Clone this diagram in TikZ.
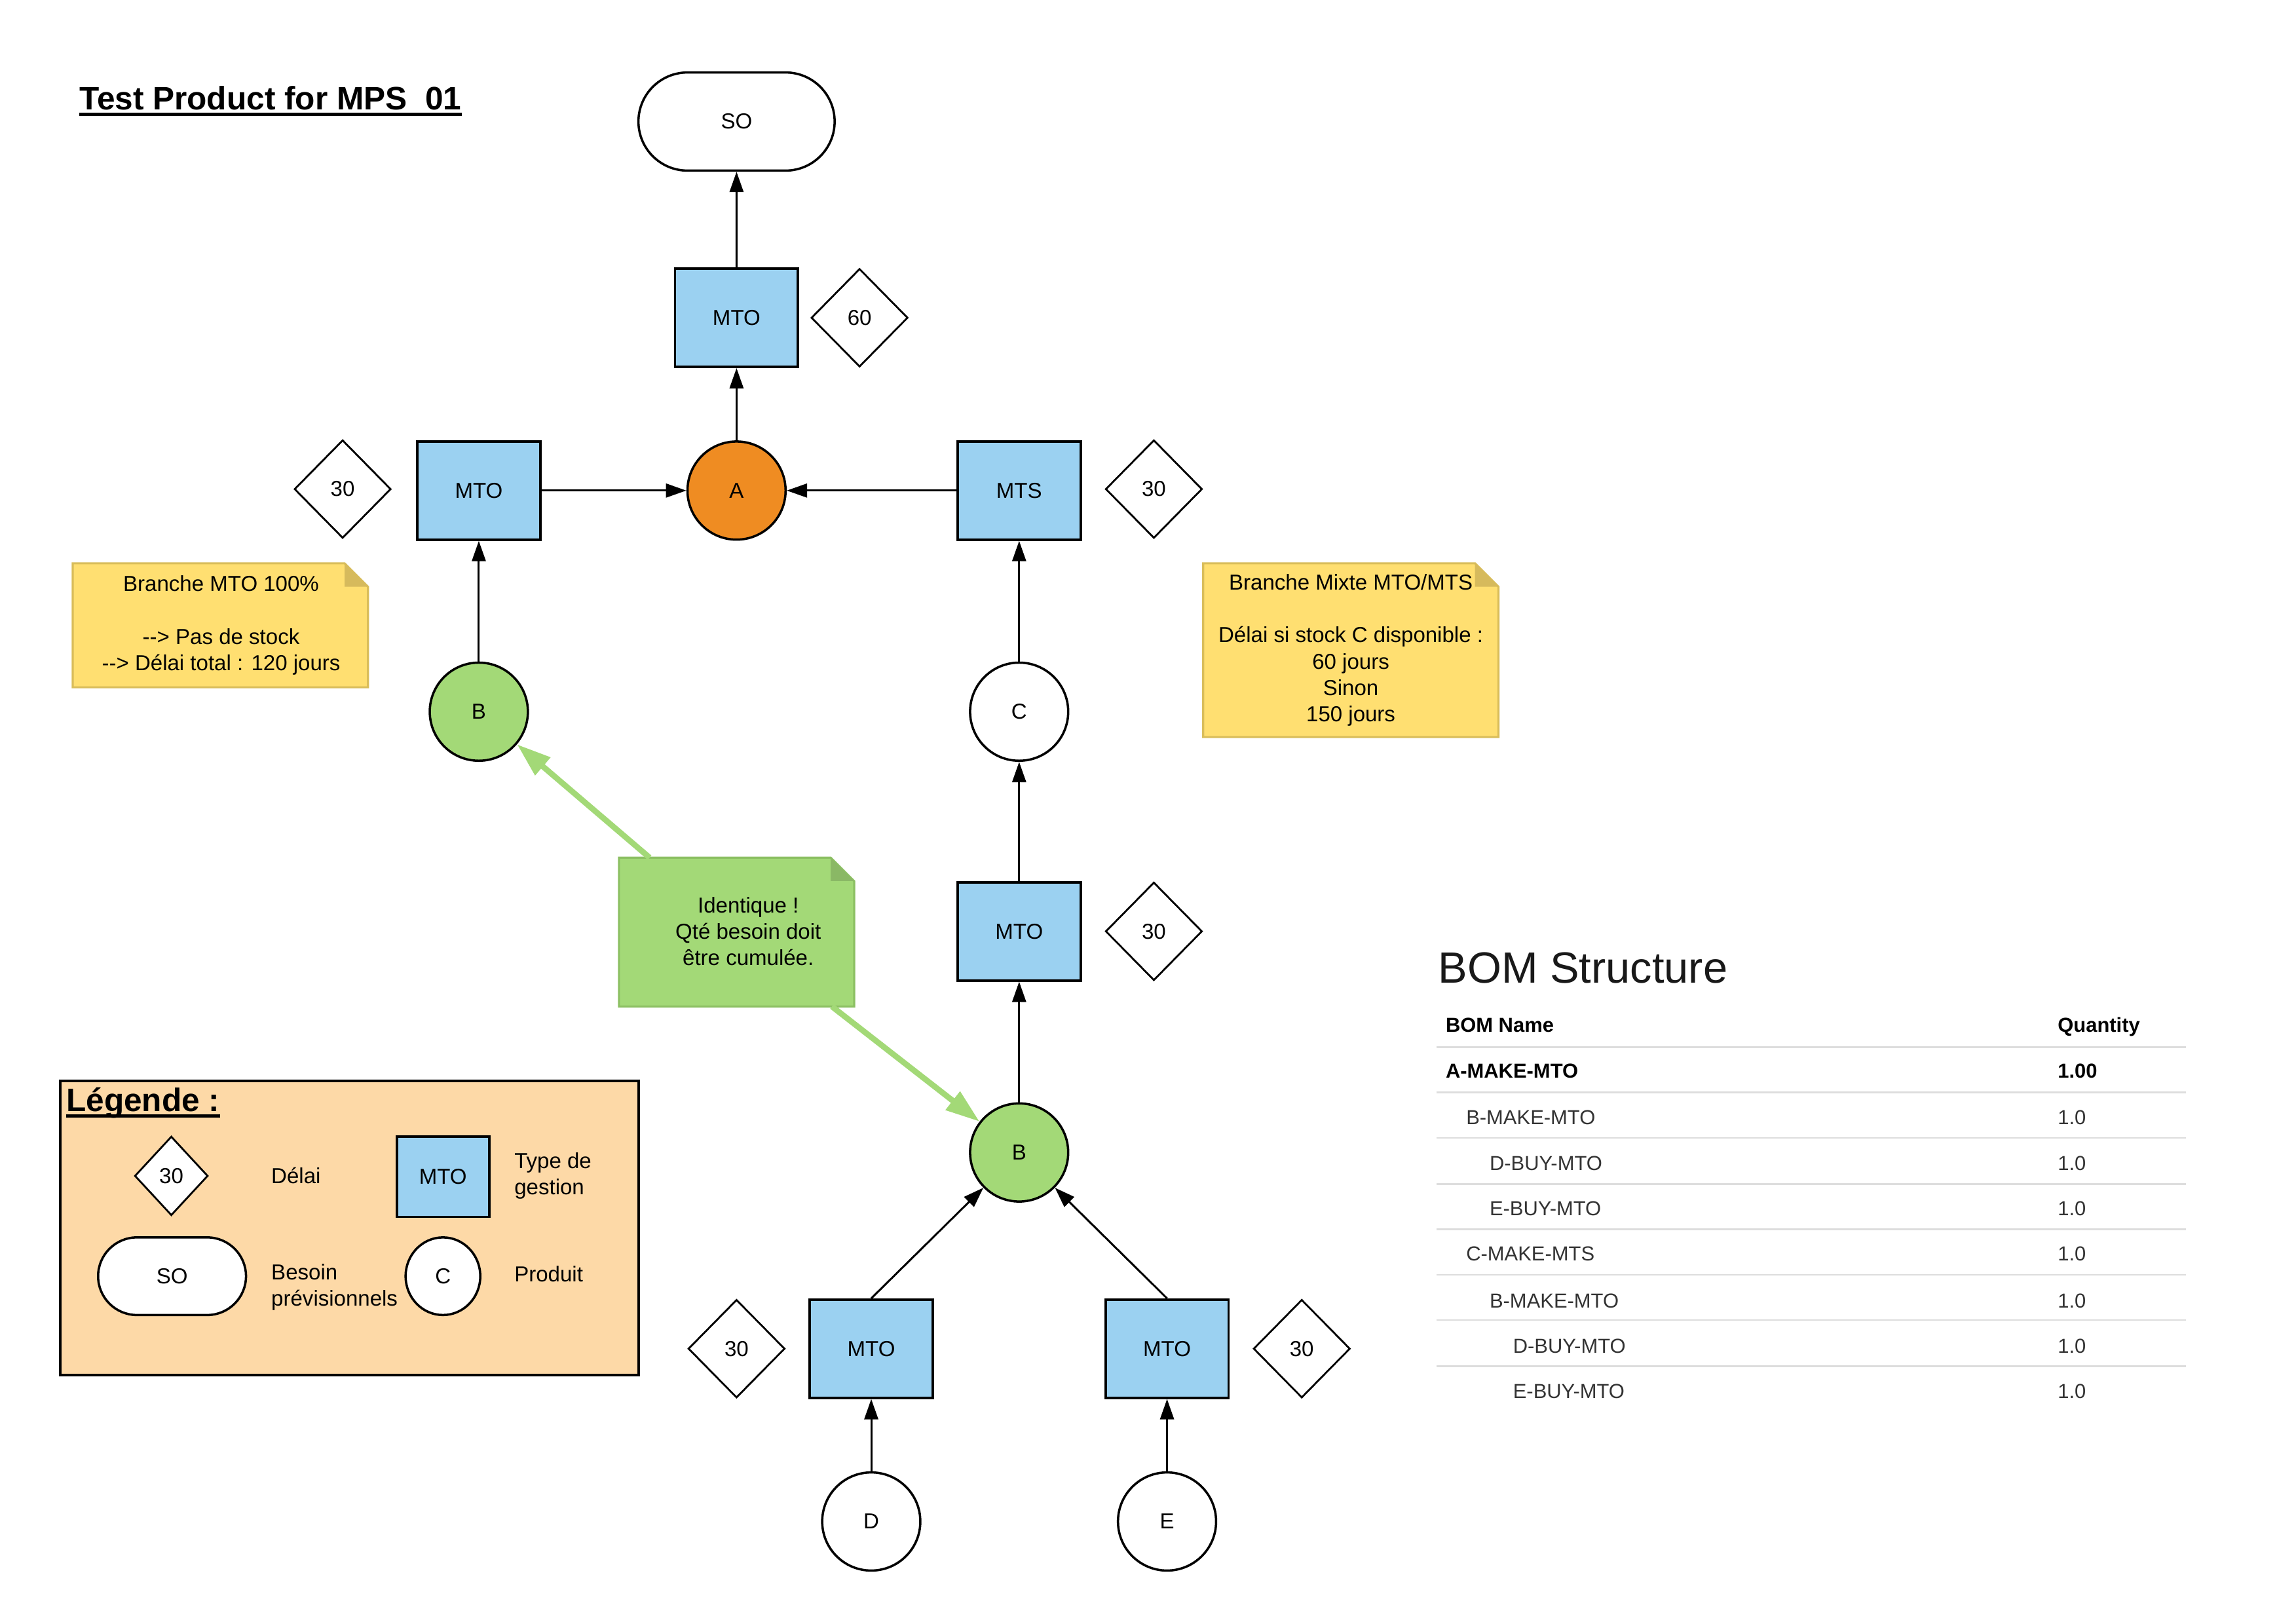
\documentclass[tikz,border=0pt]{standalone}
\usepackage{fontspec}
\setmainfont{Liberation Sans}
\usetikzlibrary{shapes.geometric,shapes.misc,arrows.meta,calc}
\definecolor{boxblue}{HTML}{9BD1F1}
\definecolor{aorange}{HTML}{EF8C22}
\definecolor{bgreen}{HTML}{A3D977}
\definecolor{notey}{HTML}{FFDF71}
\definecolor{noteyb}{HTML}{D9BD5A}
\definecolor{noteyf}{HTML}{D6BA5C}
\definecolor{noteg}{HTML}{A3D977}
\definecolor{notegb}{HTML}{8CC063}
\definecolor{notegf}{HTML}{8AB865}
\definecolor{legfill}{HTML}{FDD9A7}
\definecolor{tline}{HTML}{DDDDDD}
\definecolor{ttext}{HTML}{333333}
\newcommand\ndfont{\fontsize{9.4}{11.4}\selectfont}
\newcommand\bigtfont{\fontsize{14.1}{16}\selectfont\bfseries}
\newcommand\bomfont{\fontsize{19}{22}\selectfont}
\newcommand\tabfont{\fontsize{8.8}{10}\selectfont}
\newcommand\dogear[4]{%
  \draw[draw=#3, fill=#2, line width=0.9pt] (#1.north west) -- ($(#1.north east)+(-16,0)$) -- ($(#1.north east)+(0,16)$) -- (#1.south east) -- (#1.south west) -- cycle;
  \fill[#4] ($(#1.north east)+(-16,0)$) -- ($(#1.north east)+(-16,16)$) -- ($(#1.north east)+(0,16)$) -- cycle;}
\begin{document}
\begin{tikzpicture}[x=0.022354cm,y=-0.022354cm,
  base/.style={font=\ndfont, align=center, inner sep=0pt},
  mbox/.style={base, draw, line width=1.1pt, fill=boxblue, minimum width=1.878cm, minimum height=1.498cm},
  prod/.style={base, circle, draw, line width=1pt, fill=white, minimum size=1.498cm},
  delay/.style={base, diamond, draw, line width=0.8pt, fill=white, minimum width=1.475cm, minimum height=1.498cm},
  term/.style={base, rounded rectangle, draw, line width=1pt, fill=white, minimum width=2.995cm, minimum height=1.498cm},
  noteshape/.style={inner sep=0pt, draw=none},
  ntext/.style={base},
  ltext/.style={base, align=left, anchor=west},
  arr/.style={line width=0.85pt, -{Triangle[length=3.1mm,width=2.1mm]}},
  garr/.style={line width=2.5pt, draw=bgreen, -{Triangle[length=5.2mm,width=3.4mm]}},
  tabtxt/.style={font=\tabfont, inner sep=0pt, anchor=base west, text=ttext},
  tabhd/.style={font=\tabfont\bfseries, inner sep=0pt, anchor=base west, text=black},
  tabrule/.style={draw=tline, line width=0.7pt}]
\useasboundingbox[fill=white] (0,0) rectangle (1568,1109);

% title
\node[anchor=base west, inner sep=0pt, font=\bigtfont] (title) at (54,75) {Test Product for MPS~ 01};
\draw[line width=1.3pt] ([yshift=-2pt]title.base west) -- ([yshift=-2pt]title.base east);

% diagram nodes
\node[term] (so) at (503,83) {SO};
\node[mbox] (mtoT) at (503,217) {MTO};
\node[delay] (d60) at (587,217) {60};
\node[prod, fill=aorange] (A) at (503,335) {A};
\node[mbox] (mtoL) at (327,335) {MTO};
\node[delay] (dL) at (234,334) {30};
\node[mbox] (mts) at (696,335) {MTS};
\node[delay] (dR) at (788,334) {30};
\node[prod, fill=bgreen] (Bup) at (327,486) {B};
\node[prod] (C) at (696,486) {C};
\node[mbox] (mtoM) at (696,636) {MTO};
\node[delay] (dM) at (788,636) {30};
\node[prod, fill=bgreen] (Blow) at (696,787) {B};
\node[mbox] (mtoLL) at (595,921) {MTO};
\node[delay] (dLL) at (503,921) {30};
\node[mbox] (mtoLR) at (797,921) {MTO};
\node[delay] (dLR) at (889,921) {30};
\node[prod] (D) at (595,1039) {D};
\node[prod] (E) at (797,1039) {E};

% connectors
\draw[arr] (mtoT) -- (so);
\draw[arr] (A) -- (mtoT);
\draw[arr] (mtoL) -- (A);
\draw[arr] (mts) -- (A);
\draw[arr] (Bup) -- (mtoL);
\draw[arr] (C) -- (mts);
\draw[arr] (mtoM) -- (C);
\draw[arr] (Blow) -- (mtoM);
\draw[arr] (mtoLL.north) -- (Blow);
\draw[arr] (mtoLR.north) -- (Blow);
\draw[arr] (D) -- (mtoLL);
\draw[arr] (E) -- (mtoLR);

% notes
\node[noteshape, minimum width=4.493cm, minimum height=1.878cm] (n1) at (150.5,427) {};
\dogear{n1}{notey}{noteyb}{noteyf}
\node[ntext] (n1t) at (151,427) {Branche MTO 100\%\\[11.4pt]-{}-> Pas de stock\\-{}-> Délai total : 120 jours};

\node[noteshape, minimum width=4.493cm, minimum height=2.638cm] (n2) at (922.5,444) {};
\dogear{n2}{notey}{noteyb}{noteyf}
\node[ntext] (n2t) at (922.5,444) {Branche Mixte MTO/MTS\\[11.4pt]Délai si stock C disponible :\\60 jours\\Sinon\\150 jours};

\node[noteshape, minimum width=3.577cm, minimum height=2.258cm] (gn) at (503,636.5) {};
\dogear{gn}{noteg}{notegb}{notegf}
\node[ntext] (gnt) at (511,636) {Identique !\\Qté besoin doit\\être cumulée.};

\draw[garr] (gn) -- (Bup);
\draw[garr] (gn) -- (Blow);

% legend
\node[draw, line width=1.1pt, fill=legfill, minimum width=8.830cm, minimum height=4.493cm, inner sep=0pt] (leg) at (238.5,838.5) {};
\node[anchor=base west, inner sep=0pt, font=\bigtfont] (legt) at (45,759) {Légende :};
\draw[line width=1.3pt] ([yshift=-2pt]legt.base west) -- ([yshift=-2pt]legt.base east);
\node[delay, minimum width=1.118cm, minimum height=1.207cm] (ld) at (117,803) {30};
\node[ltext] (ldt) at (185,803) {Délai};
\node[mbox, minimum width=1.408cm, minimum height=1.229cm] (lm) at (302.5,803.5) {MTO};
\node[ltext] (lmt) at (351,803) {Type de\\gestion};
\node[term, minimum width=2.258cm, minimum height=1.185cm] (ls) at (117.5,871.5) {SO};
\node[ltext] (lst) at (185,879) {Besoin\\prévisionnels};
\node[prod, ellipse, minimum width=1.14cm, minimum height=1.185cm] (lc) at (302.5,871.5) {C};
\node[ltext] (lct) at (351,870) {Produit};

% BOM table
\node[anchor=west, inner sep=0pt, font=\bomfont, text=black!90] (bom) at (982,661) {BOM Structure};
\node[tabhd] (h1) at (987,705) {BOM Name};
\node[tabhd] (h2) at (1405,705) {Quantity};
\draw[tabrule] (981,715) -- (1493,715);
\node[tabhd] (r1a) at (987,736) {A-MAKE-MTO};
\node[tabhd] (r1b) at (1405,736) {1.00};
\draw[tabrule] (981,746) -- (1493,746);
\node[tabtxt] (r2a) at (1001,768) {B-MAKE-MTO};
\node[tabtxt] (r2b) at (1405,768) {1.0};
\draw[tabrule] (981,777) -- (1493,777);
\node[tabtxt] (r3a) at (1017,799) {D-BUY-MTO};
\node[tabtxt] (r3b) at (1405,799) {1.0};
\draw[tabrule] (981,808.5) -- (1493,808.5);
\node[tabtxt] (r4a) at (1017,830) {E-BUY-MTO};
\node[tabtxt] (r4b) at (1405,830) {1.0};
\draw[tabrule] (981,839.5) -- (1493,839.5);
\node[tabtxt] (r5a) at (1001,861) {C-MAKE-MTS};
\node[tabtxt] (r5b) at (1405,861) {1.0};
\draw[tabrule] (981,870.5) -- (1493,870.5);
\node[tabtxt] (r6a) at (1017,893) {B-MAKE-MTO};
\node[tabtxt] (r6b) at (1405,893) {1.0};
\draw[tabrule] (981,901.5) -- (1493,901.5);
\node[tabtxt] (r7a) at (1033,924) {D-BUY-MTO};
\node[tabtxt] (r7b) at (1405,924) {1.0};
\draw[tabrule] (981,933) -- (1493,933);
\node[tabtxt] (r8a) at (1033,955) {E-BUY-MTO};
\node[tabtxt] (r8b) at (1405,955) {1.0};
\end{tikzpicture}
\end{document}
